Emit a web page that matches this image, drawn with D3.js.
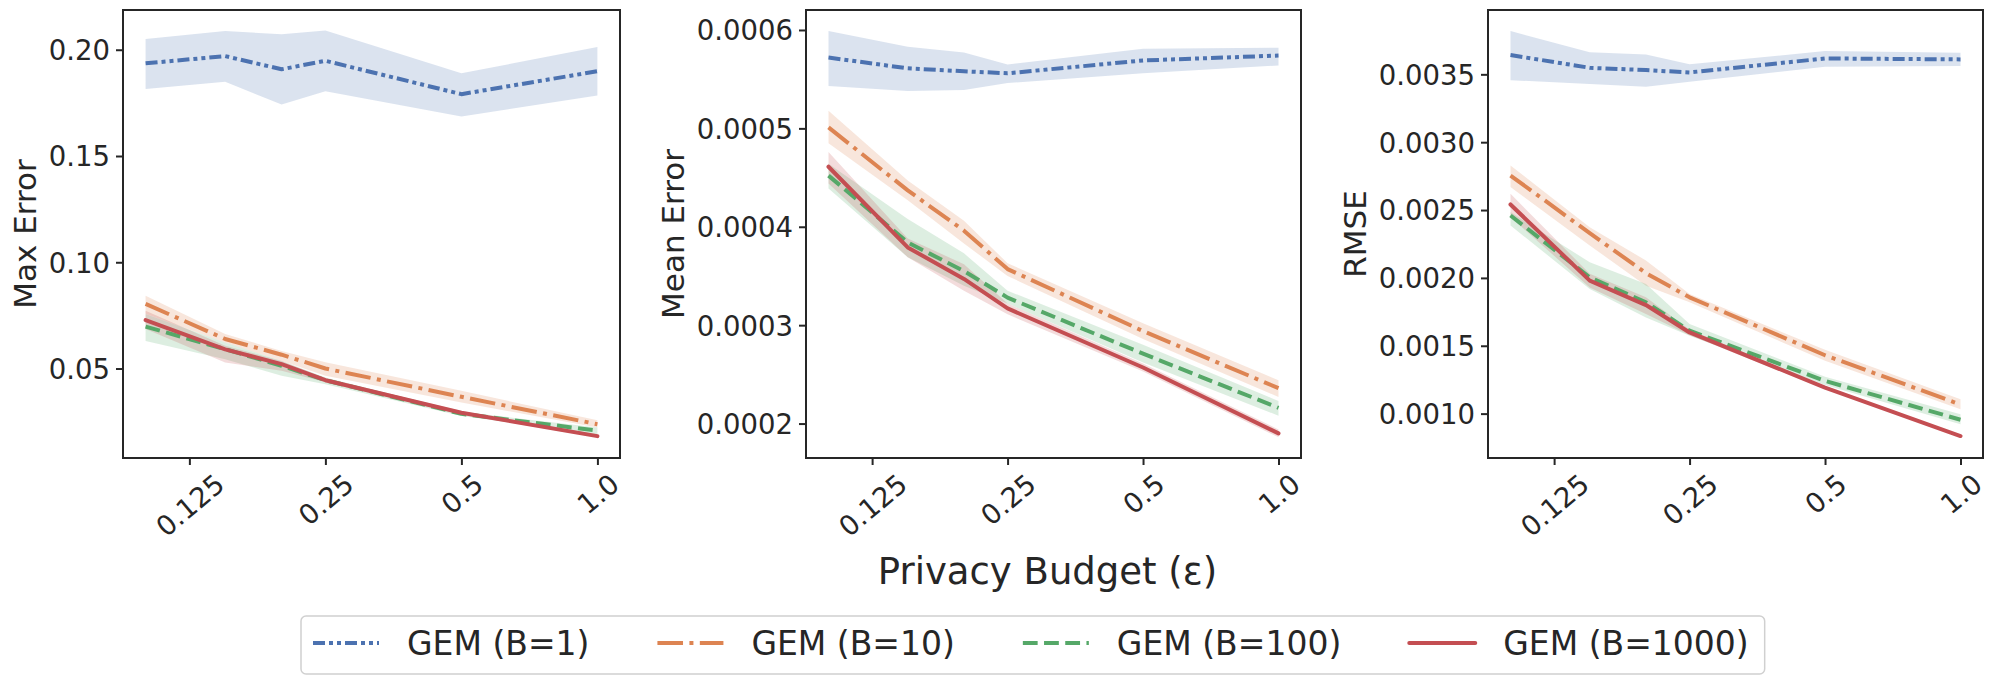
<!DOCTYPE html>
<html>
<head>
<meta charset="utf-8">
<script src="https://cdn.jsdelivr.net/npm/d3@7"></script>
<style>
  html, body { margin: 0; padding: 0; background: #fff; }
  svg { display: block; font-family: "DejaVu Sans", sans-serif; }
</style>
</head>
<body>
<div id="chart"></div>
<script>
const epsilons = [0.1, 0.15, 0.2, 0.25, 0.5, 1.0];
const xTickValues = [0.125, 0.25, 0.5, 1.0];
const xTickLabels = ["0.125", "0.25", "0.5", "1.0"];

const seriesNames = ["GEM (B=1)", "GEM (B=10)", "GEM (B=100)", "GEM (B=1000)"];

// Max Error
const maxB1 = [0.1936, 0.1970, 0.1908, 0.1948, 0.1791, 0.1899];
const maxB1Lo = [0.1815, 0.1849, 0.1742, 0.1805, 0.1686, 0.1785];
const maxB1Hi = [0.2050, 0.2088, 0.2073, 0.2090, 0.1889, 0.2013];
const maxB10 = [0.0804, 0.0639, 0.0565, 0.0500, 0.0367, 0.0238];
const maxB10Lo = [0.0758, 0.0623, 0.0536, 0.0466, 0.0340, 0.0222];
const maxB10Hi = [0.0843, 0.0662, 0.0583, 0.0530, 0.0395, 0.0257];
const maxB100 = [0.0697, 0.0591, 0.0513, 0.0445, 0.0287, 0.0208];
const maxB100Lo = [0.0630, 0.0544, 0.0466, 0.0426, 0.0277, 0.0190];
const maxB100Hi = [0.0757, 0.0623, 0.0536, 0.0458, 0.0297, 0.0222];
const maxB1000 = [0.0728, 0.0590, 0.0521, 0.0445, 0.0292, 0.0182];
const maxB1000Lo = [0.0686, 0.0528, 0.0489, 0.0435, 0.0284, 0.0175];
const maxB1000Hi = [0.0772, 0.0607, 0.0536, 0.0455, 0.0300, 0.0189];

// Mean Error
const meanB1 = [0.000572, 0.000561, 0.000558, 0.000556, 0.000569, 0.000574];
const meanB1Lo = [0.000543, 0.000538, 0.000539, 0.000546, 0.000556, 0.000564];
const meanB1Hi = [0.000599, 0.000583, 0.000577, 0.000565, 0.000581, 0.000582];
const meanB10 = [0.000501, 0.000437, 0.000396, 0.000357, 0.000294, 0.000236];
const meanB10Lo = [0.000485, 0.000427, 0.000383, 0.000350, 0.000286, 0.000227];
const meanB10Hi = [0.000518, 0.000447, 0.000406, 0.000363, 0.000302, 0.000244];
const meanB100 = [0.000452, 0.000384, 0.000355, 0.000328, 0.000271, 0.000216];
const meanB100Lo = [0.000439, 0.000369, 0.000340, 0.000322, 0.000262, 0.000208];
const meanB100Hi = [0.000464, 0.000408, 0.000373, 0.000335, 0.000280, 0.000223];
const meanB1000 = [0.000461, 0.000379, 0.000347, 0.000317, 0.000257, 0.000190];
const meanB1000Lo = [0.000444, 0.000369, 0.000335, 0.000311, 0.000253, 0.000186];
const meanB1000Hi = [0.000476, 0.000388, 0.000362, 0.000322, 0.000261, 0.000194];

// RMSE
const rmseB1 = [0.003642, 0.003548, 0.003531, 0.003514, 0.003617, 0.003610];
const rmseB1Lo = [0.003457, 0.003428, 0.003408, 0.003445, 0.003555, 0.003561];
const rmseB1Hi = [0.003819, 0.003662, 0.003647, 0.003575, 0.003671, 0.003659];
const rmseB10 = [0.002754, 0.002330, 0.002035, 0.001857, 0.001430, 0.001067];
const rmseB10Lo = [0.002669, 0.002239, 0.001943, 0.001820, 0.001390, 0.001032];
const rmseB10Hi = [0.002829, 0.002374, 0.002128, 0.001882, 0.001470, 0.001106];
const rmseB100 = [0.002460, 0.002004, 0.001820, 0.001611, 0.001241, 0.000955];
const rmseB100Lo = [0.002386, 0.001919, 0.001709, 0.001574, 0.001211, 0.000922];
const rmseB100Hi = [0.002485, 0.002115, 0.001956, 0.001660, 0.001271, 0.000995];
const rmseB1000 = [0.002541, 0.001980, 0.001800, 0.001598, 0.001192, 0.000835];
const rmseB1000Lo = [0.002448, 0.001930, 0.001734, 0.001578, 0.001182, 0.000825];
const rmseB1000Hi = [0.002620, 0.002030, 0.001857, 0.001618, 0.001202, 0.000845];

const maxTicks = [0.05, 0.10, 0.15, 0.20];
const meanTicks = [0.0002, 0.0003, 0.0004, 0.0005, 0.0006];
const rmseTicks = [0.0010, 0.0015, 0.0020, 0.0025, 0.0030, 0.0035];

const panels = [
  { label: "Max Error", x0: 123, x1: 620, yDomain: [0.0079, 0.2187], ticks: maxTicks, fmt: ".2f",
    mean: [maxB1, maxB10, maxB100, maxB1000], lo: [maxB1Lo, maxB10Lo, maxB100Lo, maxB1000Lo], hi: [maxB1Hi, maxB10Hi, maxB100Hi, maxB1000Hi] },
  { label: "Mean Error", x0: 806, x1: 1301, yDomain: [0.000165, 0.0006203], ticks: meanTicks, fmt: ".4f",
    mean: [meanB1, meanB10, meanB100, meanB1000], lo: [meanB1Lo, meanB10Lo, meanB100Lo, meanB1000Lo], hi: [meanB1Hi, meanB10Hi, meanB100Hi, meanB1000Hi] },
  { label: "RMSE", x0: 1488, x1: 1983, yDomain: [0.000673, 0.003974], ticks: rmseTicks, fmt: ".4f",
    mean: [rmseB1, rmseB10, rmseB100, rmseB1000], lo: [rmseB1Lo, rmseB10Lo, rmseB100Lo, rmseB1000Lo], hi: [rmseB1Hi, rmseB10Hi, rmseB100Hi, rmseB1000Hi] }
];

const colors = ["#4c72b0", "#dd8452", "#55a868", "#c44e52"];
const lineW = 4;
// matplotlib dash patterns scaled by line width
const dashes = ["12,4,4,4,4,4", "25.6,6.4,4,6.4", "14.8,6.4", null];

const W = 1995, H = 699;
const plotTop = 10, plotBottom = 458;
const textColor = "#262626";
const font = "DejaVu Sans";

const svg = d3.select("#chart").append("svg")
  .attr("width", W)
  .attr("height", H);

// x domain with matplotlib's 5% margin in log space
const lmin = Math.log2(d3.min(epsilons)), lmax = Math.log2(d3.max(epsilons));
const marg = (lmax - lmin) * 0.05;
const xDomain = [Math.pow(2, lmin - marg), Math.pow(2, lmax + marg)];

panels.forEach((p, pi) => {
  const x = d3.scaleLog().base(2).domain(xDomain).range([p.x0, p.x1]);
  const y = d3.scaleLinear().domain(p.yDomain).range([plotBottom, plotTop]);

  const g = svg.append("g");

  g.append("defs").append("clipPath")
    .attr("id", "clip" + pi)
    .append("rect")
    .attr("x", p.x0).attr("y", plotTop)
    .attr("width", p.x1 - p.x0).attr("height", plotBottom - plotTop);

  const plot = g.append("g").attr("clip-path", `url(#clip${pi})`);

  const area = d3.area()
    .x((d, i) => x(epsilons[i]))
    .y0(d => y(d[0]))
    .y1(d => y(d[1]));

  const line = d3.line()
    .x((d, i) => x(epsilons[i]))
    .y(d => y(d));

  // bands under all lines
  p.mean.forEach((m, si) => {
    plot.append("path")
      .datum(p.lo[si].map((v, i) => [v, p.hi[si][i]]))
      .attr("d", area)
      .attr("fill", colors[si])
      .attr("fill-opacity", 0.2);
  });

  p.mean.forEach((m, si) => {
    plot.append("path")
      .datum(m)
      .attr("d", line)
      .attr("fill", "none")
      .attr("stroke", colors[si])
      .attr("stroke-width", lineW)
      .attr("stroke-linecap", dashes[si] ? "butt" : "round")
      .attr("stroke-linejoin", "round")
      .attr("stroke-dasharray", dashes[si]);
  });

  // frame
  g.append("rect")
    .attr("x", p.x0).attr("y", plotTop)
    .attr("width", p.x1 - p.x0).attr("height", plotBottom - plotTop)
    .attr("fill", "none")
    .attr("stroke", textColor)
    .attr("stroke-width", 2);

  // y axis
  const yAxis = g.append("g")
    .attr("transform", `translate(${p.x0},0)`)
    .call(d3.axisLeft(y).tickValues(p.ticks).tickFormat(d3.format(p.fmt)).tickSize(7).tickPadding(6))
    .attr("font-family", font)
    .attr("font-size", 27.5);
  yAxis.select(".domain").remove();
  yAxis.selectAll(".tick line").attr("stroke", textColor).attr("stroke-width", 2);
  yAxis.selectAll("text")
    .attr("fill", textColor)
    .attr("dy", "0.36em");

  // x axis
  const xAxis = g.append("g")
    .attr("transform", `translate(0,${plotBottom})`)
    .call(d3.axisBottom(x).tickValues(xTickValues).tickFormat((d, i) => xTickLabels[i]).tickSize(7))
    .attr("font-family", font)
    .attr("font-size", 27.5);
  xAxis.select(".domain").remove();
  xAxis.selectAll(".tick line").attr("stroke", textColor).attr("stroke-width", 2);

  const ang = 40 * Math.PI / 180;
  xAxis.selectAll(".tick text")
    .attr("fill", textColor)
    .attr("y", 0)
    .attr("dy", null)
    .attr("text-anchor", "middle")
    .attr("dominant-baseline", "central")
    .each(function () {
      const w = this.getComputedTextLength();
      const h = 20;
      const half = (w * Math.sin(ang) + h * Math.cos(ang)) / 2;
      d3.select(this).attr("transform", `translate(0,${7 + 7 + half}) rotate(-40)`);
    });

  // y label, left of the widest tick label
  const tickLeft = d3.min(yAxis.selectAll("text").nodes(), n => n.getBBox().x) + p.x0;
  g.append("text")
    .attr("transform", `translate(${tickLeft - 13},${(plotTop + plotBottom) / 2}) rotate(-90)`)
    .attr("text-anchor", "middle")
    .attr("fill", textColor)
    .style("font-size", "31px")
    .text(p.label);

  if (pi === 1) {
    g.append("text")
      .attr("x", (p.x0 + p.x1) / 2 - 6)
      .attr("y", 584)
      .attr("text-anchor", "middle")
      .attr("fill", textColor)
      .style("font-size", "37px")
      .text("Privacy Budget (ε)");
  }
});

// Legend
const legend = svg.append("g");
const legendBox = legend.append("rect")
  .attr("y", 616)
  .attr("height", 58)
  .attr("rx", 5)
  .attr("fill", "#fff")
  .attr("stroke", "#d0d0d0")
  .attr("stroke-width", 1.5);

let lx = 313;
const ly = 643;
seriesNames.forEach((name, i) => {
  legend.append("line")
    .attr("x1", lx).attr("x2", lx + 66)
    .attr("y1", ly).attr("y2", ly)
    .attr("stroke", colors[i])
    .attr("stroke-width", lineW)
    .attr("stroke-linecap", dashes[i] ? "butt" : "round")
    .attr("stroke-dasharray", dashes[i]);
  const t = legend.append("text")
    .attr("x", lx + 94)
    .attr("y", ly)
    .attr("dominant-baseline", "central")
    .attr("fill", textColor)
    .style("font-size", "33px")
    .text(name);
  const tw = t.node().getComputedTextLength();
  lx = lx + 94 + tw + 68;
});
legendBox
  .attr("x", 301)
  .attr("width", lx - 68 + 16 - 301);
</script>
</body>
</html>
